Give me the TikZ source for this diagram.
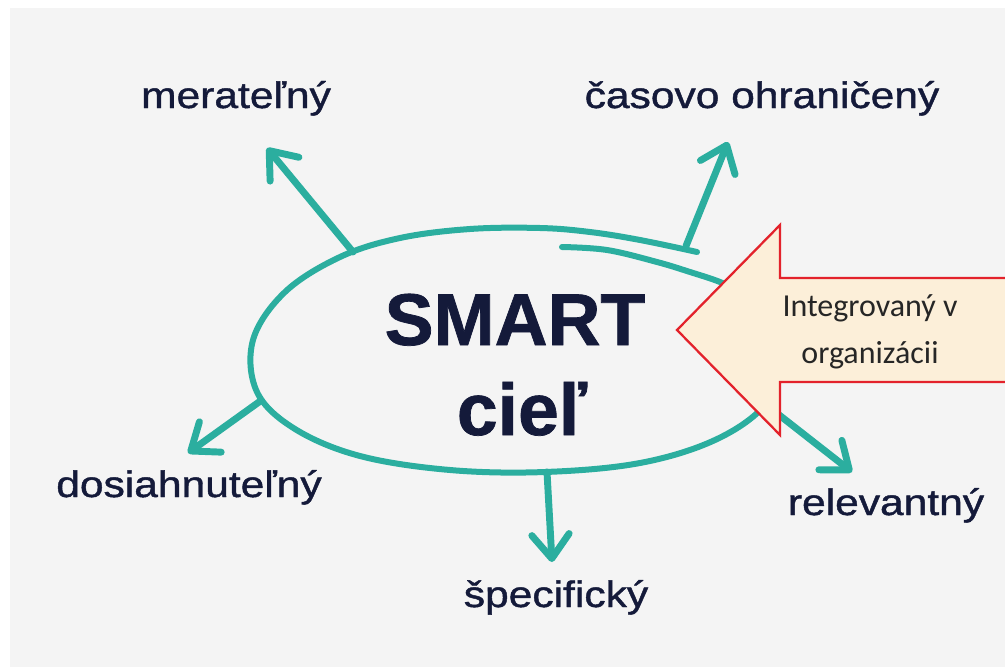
\documentclass[tikz,border=0pt]{standalone}
\usepackage{fontspec}
\setmainfont{Liberation Sans}
\newfontfamily\lblfont[FakeStretch=1.16,FakeBold=1.2]{Liberation Sans}
\newfontfamily\bigfont[FakeBold=1]{Liberation Sans Bold}
\newfontfamily\boxfont{Carlito}
\usetikzlibrary{arrows.meta}
\definecolor{tealc}{HTML}{2BAE9F}
\definecolor{navy}{HTML}{141A3A}
\definecolor{bgc}{HTML}{F4F4F4}
\definecolor{redb}{HTML}{E3222B}
\definecolor{cream}{HTML}{FCEFD9}
\begin{document}
\begin{tikzpicture}[x=0.75pt,y=-0.75pt,
  tarrow/.style={draw=tealc,line width=5.2pt,line cap=round,-{Straight Barb[length=18pt,width=28pt,round]}},
  lbl/.style={font=\lblfont\fontsize{27.5}{30}\selectfont,text=navy,anchor=base,inner sep=0pt},
  big/.style={font=\bigfont\fontsize{55}{66}\selectfont,text=navy,anchor=base,inner sep=0pt},
  stroke/.style={draw=tealc,line width=4.5pt,line cap=round,line join=round}]
\useasboundingbox (0,0) rectangle (1005,667);
\fill[white] (0,0) rectangle (1005,667);
\fill[bgc] (10,8) rectangle (1005,667);
% hand-drawn loop round the goal
\draw[stroke] plot[smooth,tension=0.6] coordinates {(697,252) (640,240) (590,232) (540,228) (470,229) (400,238) (340,257) (285,292) (253,340) (257,392) (295,429) (360,456) (450,470) (545,472) (640,463) (715,440) (765,405) (783,360) (772,318) (745,294) (720,282) (690,272) (657,262) (607,250) (562,247)};
\node[big] (smart) at (515,345) {SMART};
\node[big] (ciel) at (522,435) {cieľ};
% labels
\node[lbl] (mer) at (236,108) {merateľný};
\node[lbl] (cas) at (762,108) {časovo ohraničený};
\node[lbl] (dos) at (189,497) {dosiahnuteľný};
\node[lbl] (rel) at (886,515) {relevantný};
\node[lbl] (spe) at (556,607) {špecifický};
% arrow ends
\coordinate (sm) at (353,252);
\coordinate (tm) at (267,148);
\coordinate (sc) at (686,246);
\coordinate (tc) at (728,142);
\coordinate (sd) at (259,402);
\coordinate (td) at (188,453);
\coordinate (sr) at (760,400);
\coordinate (tr) at (852,472);
\coordinate (ss) at (547,472);
\coordinate (ts) at (552,562);
\draw[tarrow] (sm) -- (tm);
\draw[tarrow] (sc) -- (tc);
\draw[tarrow] (sd) -- (td);
\draw[tarrow] (sr) -- (tr);
\draw[tarrow] (ss) -- (ts);
% big arrow
\draw[redb,line width=1.7pt,fill=cream,line join=miter] (1012,278) -- (780,278) -- (780,225) -- (677,330) -- (780,435) -- (780,382) -- (1012,382);
\node[font=\boxfont\fontsize{24}{35}\selectfont,text=black!85,align=center,inner sep=0pt] (integ) at (870,332) {Integrovaný v\\organizácii};
\end{tikzpicture}
\end{document}
